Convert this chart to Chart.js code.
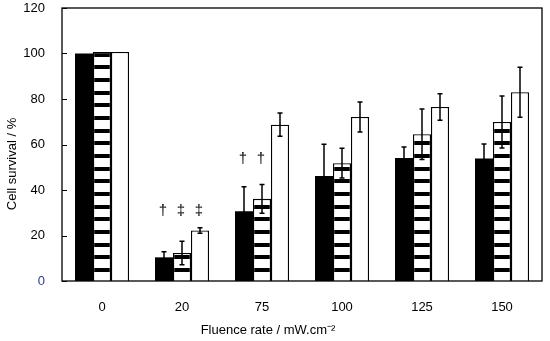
<!DOCTYPE html>
<html><head><meta charset="utf-8">
<script src="https://cdn.jsdelivr.net/npm/chart.js@4"></script>
<style>html,body{margin:0;padding:0;background:#fff}#wrap{width:550px;height:341px}</style>
</head><body><div id="wrap"><canvas id="c" width="550" height="341"></canvas></div>
<script>
const categories = ['0', '20', '75', '100', '125', '150'];
const blackVals = [100, 10.4, 30.7, 46.2, 54.1, 53.8];
const stripedVals = [100.7, 12.3, 36.1, 51.8, 64.5, 69.9];
const whiteVals = [100.7, 22.2, 68.7, 72.1, 76.5, 83.0];
const blackErr = [0, 2.5, 10.7, 13.9, 4.8, 6.4];
const stripedErr = [0, 5.2, 6.3, 6.5, 11.1, 11.4];
const whiteErr = [0, 1.2, 5.1, 6.6, 5.8, 11.0];
const sigMarks = [['', '', ''], ['†', '‡', '‡'], ['†', '†', ''], ['', '', ''], ['', '', ''], ['', '', '']];
const sigY = [null, 31, 53.5, null, null, null];
const yTickValues = [0, 20, 40, 60, 80, 100, 120];
const xTitle = 'Fluence rate / mW.cm⁻²';
const yTitle = 'Cell survival / %';

const FONT = "'Liberation Sans', Arial, sans-serif";

// stripe pattern
const pc = document.createElement('canvas');
pc.width = 4; pc.height = 38;
const pctx = pc.getContext('2d');
pctx.fillStyle = '#fff'; pctx.fillRect(0, 0, 4, 38);
pctx.fillStyle = '#000';
pctx.fillRect(0, 0, 4, 4); pctx.fillRect(0, 13, 4, 4); pctx.fillRect(0, 25, 4, 4);
const ctx = document.getElementById('c').getContext('2d');
const stripePattern = ctx.createPattern(pc, 'repeat');
stripePattern.setTransform(new DOMMatrix().translate(0, 268 % 38));

const errorArrays = [blackErr, stripedErr, whiteErr];

const overlay = {
  id: 'overlay',
  afterDatasetsDraw(chart) {
    const c = chart.ctx;
    const ys = chart.scales.y;
    const ca = chart.chartArea;
    c.save();
    c.strokeStyle = '#000';
    c.lineWidth = 1.5;
    chart.data.datasets.forEach((ds, di) => {
      const meta = chart.getDatasetMeta(di);
      meta.data.forEach((bar, i) => {
        const e = errorArrays[di][i];
        if (!e) return;
        const v = ds.data[i];
        const yt = ys.getPixelForValue(v + e);
        const yb = ys.getPixelForValue(v - e);
        c.beginPath();
        c.moveTo(bar.x, yt); c.lineTo(bar.x, yb);
        c.moveTo(bar.x - 2.5, yt); c.lineTo(bar.x + 2.5, yt);
        c.moveTo(bar.x - 2.5, yb); c.lineTo(bar.x + 2.5, yb);
        c.stroke();
      });
    });
    c.fillStyle = '#000';
    c.font = '15px ' + FONT;
    c.textAlign = 'center';
    c.textBaseline = 'middle';
    sigMarks.forEach((marks, i) => {
      if (sigY[i] == null) return;
      marks.forEach((m, di) => {
        if (!m) return;
        const bar = chart.getDatasetMeta(di).data[i];
        c.fillText(m, bar.x - 1, ys.getPixelForValue(sigY[i]));
      });
    });
    c.lineWidth = 1.3;
    c.strokeRect(ca.left, ca.top, ca.right - ca.left, ca.bottom - ca.top);
    c.lineWidth = 1;
    yTickValues.forEach(t => {
      const y = Math.round(ys.getPixelForValue(t)) + 0.5;
      c.beginPath(); c.moveTo(ca.left, y); c.lineTo(ca.left + 5, y); c.stroke();
    });
    // axis titles
    c.font = '13px ' + FONT;
    c.textAlign = 'center';
    c.textBaseline = 'middle';
    c.fillText(xTitle, 268, 330);
    c.translate(12, 164);
    c.rotate(-Math.PI / 2);
    c.fillText(yTitle, 0, 0);
    c.restore();
  }
};

new Chart(ctx, {
  type: 'bar',
  data: {
    labels: categories,
    datasets: [
      { data: blackVals, backgroundColor: '#000', borderWidth: 0 },
      { data: stripedVals, backgroundColor: stripePattern, borderColor: '#000', borderWidth: 1.3 },
      { data: whiteVals, backgroundColor: '#fff', borderColor: '#000', borderWidth: 1.3 }
    ]
  },
  options: {
    responsive: false,
    animation: false,
    devicePixelRatio: 1,
    layout: { padding: { top: 8, right: 8, left: 0, bottom: 0 } },
    plugins: { legend: { display: false }, tooltip: { enabled: false } },
    datasets: { bar: { categoryPercentage: 0.675, barPercentage: 1.0 } },
    scales: {
      x: {
        grid: { display: false, drawTicks: false },
        border: { display: false },
        ticks: { color: '#000', font: { family: FONT, size: 13 }, padding: 19 },
        title: { display: false },
        afterFit(s) { s.height = 60; s.paddingLeft = 0; s.paddingRight = 0; }
      },
      y: {
        min: 0, max: 120,
        afterBuildTicks(s) { s.ticks = yTickValues.map(v => ({ value: v })); },
        grid: { display: false, drawTicks: false },
        border: { display: false },
        ticks: {
          color: (ctx) => ctx.tick && ctx.tick.value === 0 ? '#2e3a8c' : '#000',
          font: { family: FONT, size: 13 }, padding: 17
        },
        title: { display: false },
        afterFit(s) { s.width = 62; s.paddingTop = 0; s.paddingBottom = 0; }
      }
    }
  },
  plugins: [overlay]
});
</script>
</body></html>
